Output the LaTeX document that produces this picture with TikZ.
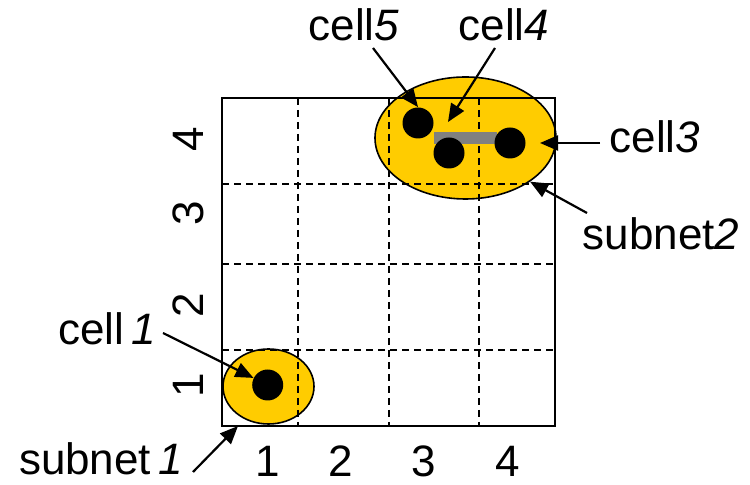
\documentclass[tikz,border=0pt]{standalone}
\usepackage{fontspec}
\setmainfont{Liberation Sans}
\usetikzlibrary{arrows.meta,shapes.geometric}
\definecolor{netyellow}{HTML}{FFCC00}
\definecolor{wiregray}{HTML}{808080}

\begin{document}
\begin{tikzpicture}[x=0.5pt,y=-0.5pt,
  lbl/.style={font=\fontsize{22}{26}\selectfont,inner sep=0pt,anchor=base},
  cellnode/.style={circle,fill=black,minimum size=15.5pt,inner sep=0pt},
  subnet/.style={ellipse,draw=black,line width=0.8pt,fill=netyellow,inner sep=0pt},
  pointer/.style={line width=1.1pt,-{Triangle[length=9pt,width=7.5pt]}},
  gridline/.style={line width=1pt,dash pattern=on 3.5pt off 2.5pt}]
\useasboundingbox (0,0) rectangle (750,485);
% subnets
\node[subnet,minimum width=45.5pt,minimum height=37.5pt] (s1) at (268.5,386.5) {};
\node[subnet,minimum width=90.5pt,minimum height=61pt] (s2) at (465.5,138) {};
% grid
\foreach \gx in {298,389,479}
  \draw[gridline] (\gx,98) -- (\gx,426);
\foreach \gy in {184,264,350}
  \draw[gridline] (222,\gy) -- (555,\gy);
\draw[line width=1.2pt] (222,98) rectangle (555,426);
% wire between cells
\draw[wiregray,line width=6pt] (434,138) -- (497,138);
% cells
\node[cellnode] (c1) at (267.7,385) {};
\node[cellnode] (c5) at (418,123) {};
\node[cellnode] (c4) at (449,153) {};
\node[cellnode] (c3) at (510,143) {};
% labels
\node[lbl] (l5) at (354,41) {cell\textit{5}};
\node[lbl] (l4) at (504,41) {cell\textit{4}};
\node[lbl] (l3) at (655,153) {cell\textit{3}};
\node[lbl] (ls2) at (661,250) {subnet\textit{2}};
\node[lbl] (l1) at (107,345) {cell\,\textit{1}};
\node[lbl] (ls1) at (101,475) {subnet\,\textit{1}};
% axis numbers
\foreach \n/\ax in {1/268,2/341,3/424,4/508}
  \node[lbl] (x\n) at (\ax,477) {\n};
\foreach \n/\ay in {1/385,2/305,3/213,4/139}
  \node[lbl,anchor=center,rotate=90] (y\n) at (188,\ay) {\n};
% pointers
\coordinate (p5) at (373,48);
\coordinate (p4) at (495,48);
\coordinate (t4) at (448,122);
\coordinate (p3) at (600,143);
\coordinate (t3) at (540,143);
\coordinate (ps2) at (587,213);
\coordinate (p1) at (163,333);
\coordinate (ps1) at (193,472);
\coordinate (ts1) at (238,426);
\draw[pointer] (p5) -- (c5.north);
\draw[pointer] (p4) -- (t4);
\draw[pointer] (p3) -- (t3);
\draw[pointer] (ps2) -- (s2.south east);
\draw[pointer] (p1) -- (c1);
\draw[pointer] (ps1) -- (ts1);
\end{tikzpicture}
\end{document}
